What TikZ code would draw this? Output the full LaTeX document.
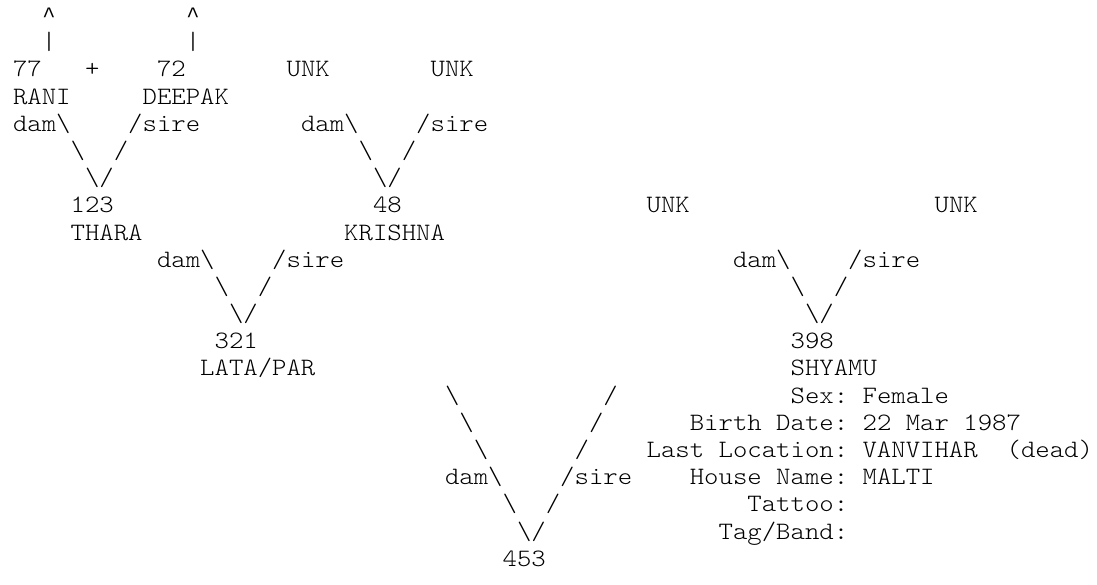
\documentclass[tikz,border=0pt]{standalone}
\usepackage{graphicx}
\usepackage{fontspec}
\newfontfamily\lightmono{Latin Modern Mono Light}
\newfontfamily\caretmono{Liberation Mono}
\tikzset{tok/.style={anchor=base west, inner sep=0pt, outer sep=0pt, text=black,
  font=\lightmono\fontsize{25}{27}\selectfont\frenchspacing},
  caretstyle/.style={tok, font=\caretmono\fontsize{22}{27}\selectfont}}
% column / line placement: cell width 14.4pt, left margin 13pt, line pitch 27.18pt
\newcommand\tk[4]{\node[tok] (#1) at ({13pt+#2*14.4pt},{-22.6pt-(#3-1)*27.18pt}) {\scalebox{1.0971}[1]{#4}};}
\newcommand\tkc[3]{\node[caretstyle] (#1) at ({13pt+#2*14.4pt+0.6pt},{-22.6pt-(#3-1)*27.18pt}) {\textasciicircum};}
\newcommand\bs{\textbackslash}
\begin{document}
\begin{tikzpicture}
\useasboundingbox (0,0) rectangle (1097pt,-585pt);
% line 1-2
\tkc{caretA}{2}{1}
\tkc{caretB}{12}{1}
\tk{barA}{2}{2}{|}
\tk{barB}{12}{2}{|}
% line 3
\tk{n77}{0}{3}{77}
\tk{plus}{5}{3}{+}
\tk{n72}{10}{3}{72}
\tk{unkA}{19}{3}{UNK}
\tk{unkB}{29}{3}{UNK}
% line 4
\tk{rani}{0}{4}{RANI}
\tk{deepak}{9}{4}{DEEPAK}
% line 5
\tk{damA}{0}{5}{dam\bs}
\tk{sireA}{8}{5}{/sire}
\tk{damB}{20}{5}{dam\bs}
\tk{sireB}{28}{5}{/sire}
% line 6
\tk{bsA}{4}{6}{\bs}
\tk{slA}{7}{6}{/}
\tk{bsB}{24}{6}{\bs}
\tk{slB}{27}{6}{/}
% line 7
\tk{vA}{5}{7}{\bs/}
\tk{vB}{25}{7}{\bs/}
% line 8
\tk{n123}{4}{8}{123}
\tk{n48}{25}{8}{48}
\tk{unkC}{44}{8}{UNK}
\tk{unkD}{64}{8}{UNK}
% line 9
\tk{thara}{4}{9}{THARA}
\tk{krishna}{23}{9}{KRISHNA}
% line 10
\tk{damC}{10}{10}{dam\bs}
\tk{sireC}{18}{10}{/sire}
\tk{damD}{50}{10}{dam\bs}
\tk{sireD}{58}{10}{/sire}
% line 11
\tk{bsC}{14}{11}{\bs}
\tk{slC}{17}{11}{/}
\tk{bsD}{54}{11}{\bs}
\tk{slD}{57}{11}{/}
% line 12
\tk{vC}{15}{12}{\bs/}
\tk{vD}{55}{12}{\bs/}
% line 13
\tk{n321}{14}{13}{321}
\tk{n398}{54}{13}{398}
% line 14
\tk{lata}{13}{14}{LATA/PAR}
\tk{shyamu}{54}{14}{SHYAMU}
% line 15-17
\tk{bsE}{30}{15}{\bs}
\tk{slE}{41}{15}{/}
\tk{sex}{54}{15}{Sex: Female}
\tk{bsF}{31}{16}{\bs}
\tk{slF}{40}{16}{/}
\tk{birth}{47}{16}{Birth Date: 22 Mar 1987}
\tk{bsG}{32}{17}{\bs}
\tk{slG}{39}{17}{/}
\tk{loc}{44}{17}{Last Location: VANVIHAR}
\tk{dead}{69}{17}{(dead)}
% line 18
\tk{damE}{30}{18}{dam\bs}
\tk{sireE}{38}{18}{/sire}
\tk{house}{47}{18}{House Name: MALTI}
% line 19
\tk{bsH}{34}{19}{\bs}
\tk{slH}{37}{19}{/}
\tk{tattoo}{51}{19}{Tattoo:}
% line 20
\tk{vE}{35}{20}{\bs/}
\tk{tag}{49}{20}{Tag/Band:}
% line 21
\tk{n453}{34}{21}{453}
\end{tikzpicture}
\end{document}
